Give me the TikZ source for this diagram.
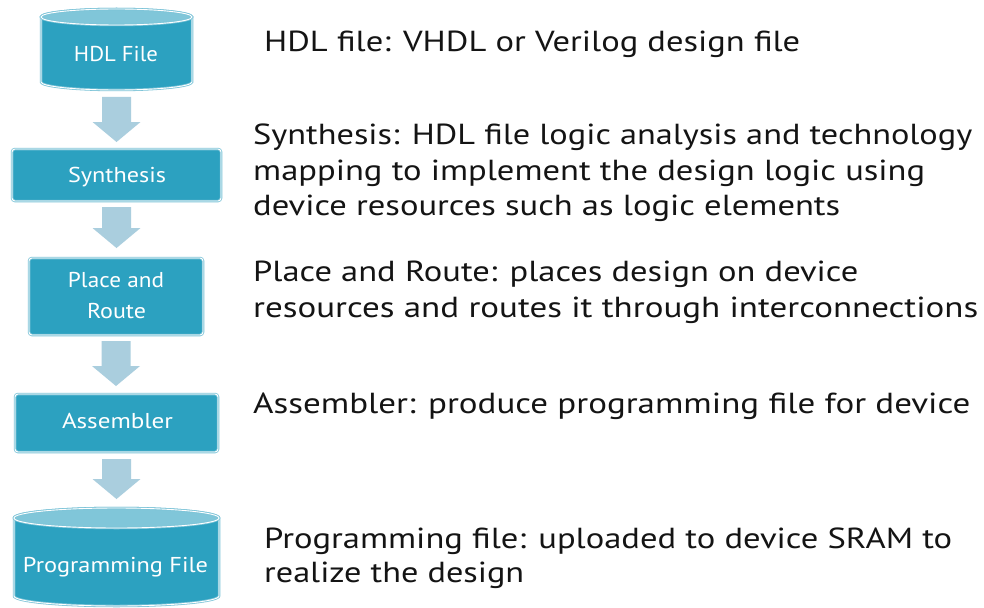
\documentclass[tikz,border=0pt]{standalone}
\usepackage{graphicx}
\usepackage{fontspec}
\setmainfont{PT Sans}
\usetikzlibrary{calc}

\definecolor{flowfill}{RGB}{44,161,192}
\definecolor{flowedge}{RGB}{125,196,216}
\definecolor{flowtop}{RGB}{128,198,217}
\definecolor{flowarrowc}{RGB}{170,206,222}
\definecolor{flowtext}{RGB}{20,20,20}

% text stretched to a given width (in pt) at its natural height
\newcommand{\fitw}[2]{\resizebox{#1pt}{\height}{#2}}

% block arrow pointing down from #1 to #2
\newcommand{\flowdownarrow}[2]{%
  \fill[flowarrow] let \p1=(#1), \p2=(#2) in
    (\x1-14.5pt,\y1) -- (\x1+14.5pt,\y1) -- (\x1+14.5pt,\y2+20pt) -- (\x1+24pt,\y2+20pt)
    -- (\x1,\y2) -- (\x1-24pt,\y2+20pt) -- (\x1-14.5pt,\y2+20pt) -- cycle;}

% storage cylinder: centre x, half width, top y, bottom y, ellipse radius
\newcommand{\flowcyl}[5]{%
  \path[flowcylbody] (#1-#2,#3) -- (#1-#2,#4)
    arc[start angle=180,end angle=360,x radius=#2pt,y radius=#5pt]
    -- (#1+#2,#3)
    arc[start angle=0,end angle=180,x radius=#2pt,y radius=#5pt] -- cycle;
  \path[flowcyltop] (#1,#3) ellipse[x radius=#2pt,y radius=#5pt];}

\tikzset{
  frame/.style={rectangle,inner sep=0pt,outer sep=0pt,draw=none},
  flowbox/.style={rectangle,rounded corners=3pt,fill=flowfill,draw=flowedge,
    double=white,double distance=0.9pt,line width=0.8pt,inner sep=0pt,outer sep=0pt},
  flowcylbody/.style={fill=flowfill,draw=flowedge,double=white,double distance=0.9pt,line width=0.8pt},
  flowcyltop/.style={fill=flowtop,draw=flowedge,double=white,double distance=0.9pt,line width=0.8pt},
  flowarrow/.style={fill=flowarrowc},
  boxtext/.style={inner sep=0pt,anchor=base,text=white,font=\fontsize{21.5}{26}\selectfont},
  desc/.style={inner sep=0pt,anchor=base west,text=flowtext,font=\fontsize{29}{35}\selectfont},
}

\begin{document}
\begin{tikzpicture}[x=1pt,y=-1pt]
\useasboundingbox (0,0) rectangle (984,607);
\fill[white] (0,0) rectangle (984,607);

% cylinders
\flowcyl{116.5}{75.5}{17}{82}{8}
\node[frame,minimum width=151pt,minimum height=81pt] (hdl) at (116.5,49.5) {};
\flowcyl{116.5}{102.5}{518}{596}{10}
\node[frame,minimum width=205pt,minimum height=98pt] (prog) at (116.5,557) {};

% process boxes
\node[flowbox,minimum width=209pt,minimum height=52pt] (syn) at (116.5,175) {};
\node[flowbox,minimum width=174pt,minimum height=77pt] (par) at (116,296.5) {};
\node[flowbox,minimum width=203pt,minimum height=58pt] (asm) at (116.5,423) {};

% labels inside the shapes
\node[boxtext] (hdl-t) at (116,62) {\fitw{84}{HDL File}};
\node[boxtext] (syn-t) at (117,182) {\fitw{98}{Synthesis}};
\node[boxtext] (par-t1) at (116,287) {\fitw{96}{Place and}};
\node[boxtext] (par-t2) at (116.5,318) {\fitw{59}{Route}};
\node[boxtext] (asm-t) at (117.5,428) {\fitw{111}{Assembler}};
\node[boxtext] (prog-t) at (115.5,572) {\fitw{185}{Programming File}};

% arrow end points
\coordinate (a1s) at ($(hdl.south)+(0,7)$);
\coordinate (a1e) at ($(syn.north)+(0,-7)$);
\coordinate (a2s) at ($(syn.south)+(0,6)$);
\coordinate (a2e) at ($(par.north)+(0,-10)$);
\coordinate (a3s) at ($(par.south)+(0,6)$);
\coordinate (a3e) at ($(asm.north)+(0,-8)$);
\coordinate (a4s) at ($(asm.south)+(0,7)$);
\coordinate (a4e) at ($(prog.north)+(0,-9)$);
\flowdownarrow{a1s}{a1e}
\flowdownarrow{a2s}{a2e}
\flowdownarrow{a3s}{a3e}
\flowdownarrow{a4s}{a4e}

% descriptions
\node[desc] (d1) at (264,52) {\fitw{536}{HDL file: VHDL or Verilog design file}};
\node[desc] (d2a) at (253,145) {\fitw{719}{Synthesis: HDL file logic analysis and technology}};
\node[desc] (d2b) at (253,180) {\fitw{672}{mapping to implement the design logic using}};
\node[desc] (d2c) at (253,215) {\fitw{587}{device resources such as logic elements}};
\node[desc] (d3a) at (253,281) {\fitw{605}{Place and Route: places design on device}};
\node[desc] (d3b) at (253,317) {\fitw{725}{resources and routes it through interconnections}};
\node[desc] (d4) at (253,413) {\fitw{717}{Assembler: produce programming file for device}};
\node[desc] (d5a) at (264,548) {\fitw{688}{Programming file: uploaded to device SRAM to}};
\node[desc] (d5b) at (264,582) {\fitw{260}{realize the design}};
\end{tikzpicture}
\end{document}
